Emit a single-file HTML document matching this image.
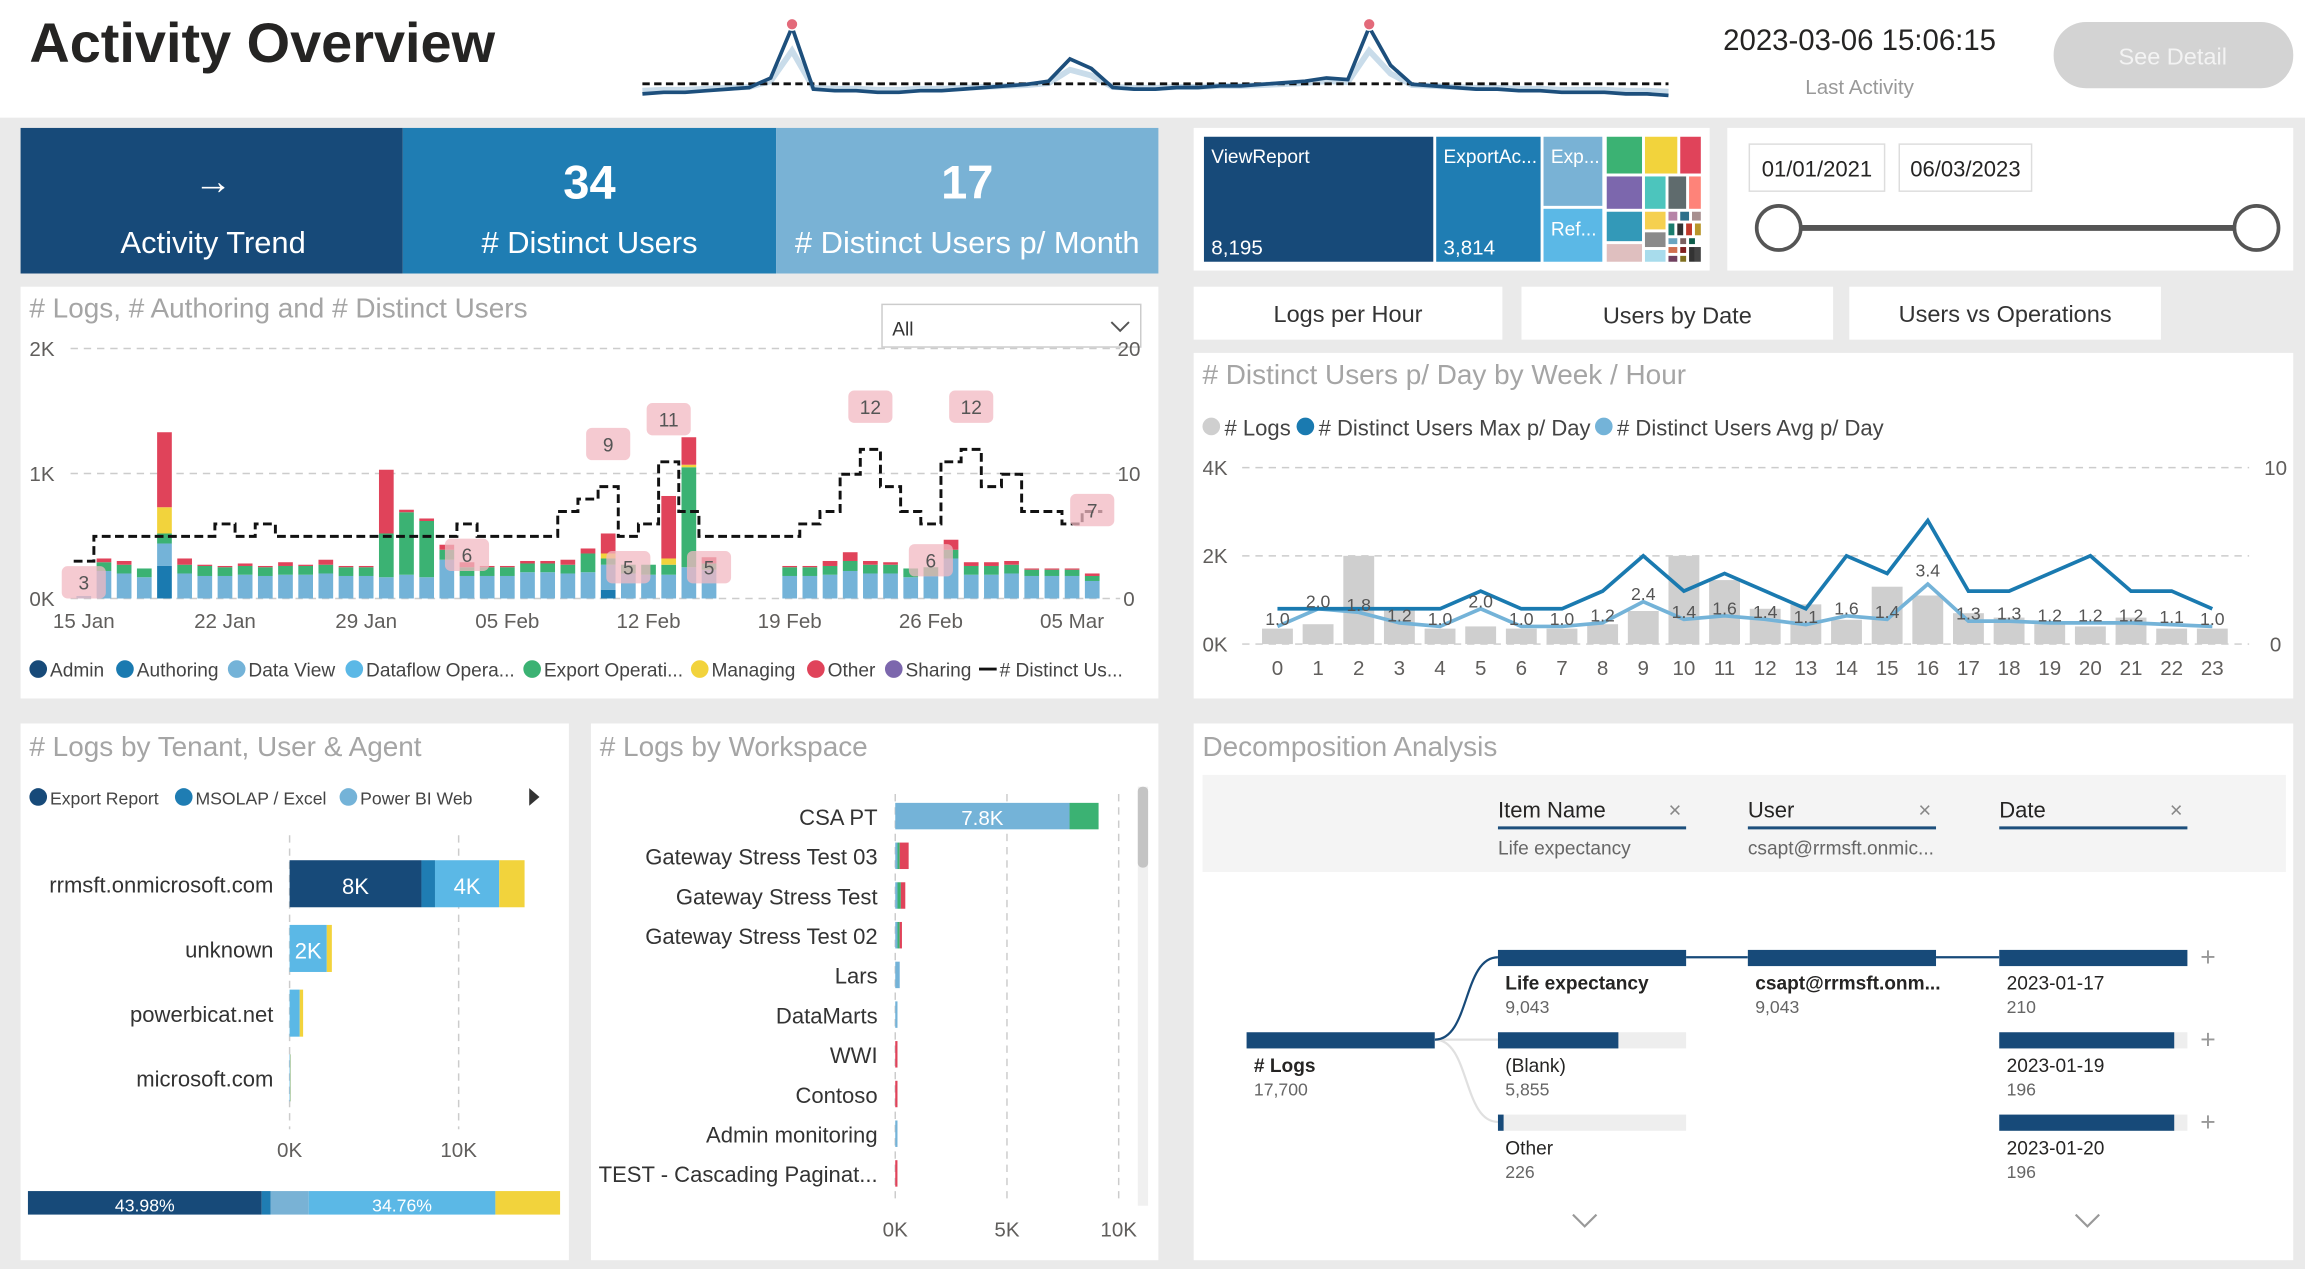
<!DOCTYPE html>
<html><head><meta charset="utf-8"><style>
html,body{margin:0;padding:0;background:#eaeaea;overflow:hidden}
svg{display:block;font-family:"Liberation Sans",sans-serif}
</style></head><body>
<svg id="root" width="2305" height="1269" viewBox="0 0 1568 863" preserveAspectRatio="none" xmlns="http://www.w3.org/2000/svg">
<rect x="0" y="0" width="1568" height="863" fill="#eaeaea"/>
<rect x="0" y="0" width="1568" height="80" fill="#fff"/>
<text x="20" y="42" font-size="38" font-weight="bold" fill="#252423">Activity Overview</text>
<g id="spark"></g>
<text x="1265" y="34" font-size="20" text-anchor="middle" fill="#252423">2023-03-06 15:06:15</text>
<text x="1265" y="64" font-size="14" text-anchor="middle" fill="#999">Last Activity</text>
<g><rect x="1397" y="15" width="163" height="45" rx="22" fill="#d3d3d3"/><text x="1478" y="44" font-size="16" text-anchor="middle" fill="#f3f3f3">See Detail</text></g>

<g><rect x="14" y="87" width="260" height="99" fill="#174a79"/><text x="145" y="132" font-size="26" text-anchor="middle" fill="#fff">→</text><text x="145" y="172" font-size="21" text-anchor="middle" fill="#fff">Activity Trend</text></g>
<g><rect x="274" y="87" width="254" height="99" fill="#1f7db3"/><text x="401" y="135" font-size="32" font-weight="bold" text-anchor="middle" fill="#fff">34</text><text x="401" y="172" font-size="21" text-anchor="middle" fill="#fff"># Distinct Users</text></g>
<g><rect x="528" y="87" width="260" height="99" fill="#79b2d5"/><text x="658" y="135" font-size="32" font-weight="bold" text-anchor="middle" fill="#fff">17</text><text x="658" y="172" font-size="21" text-anchor="middle" fill="#fff"># Distinct Users p/ Month</text></g>

<rect x="14" y="195" width="774" height="280" fill="#fff"/>
<text x="20" y="216" font-size="19" fill="#a5a5a5"># Logs, # Authoring and # Distinct Users</text>
<g><rect x="600" y="207" width="176" height="29" fill="#fff" stroke="#ccc"/><text x="607" y="228" font-size="13" fill="#333">All</text><path d="M756 219 l6 6 l6 -6" fill="none" stroke="#555" stroke-width="1.3"/></g>
<g id="main"></g>

<rect x="812" y="87" width="351" height="97" fill="#fff"/>
<g id="tree"></g>
<rect x="1175" y="87" width="385" height="97" fill="#fff"/>
<g><rect x="1190" y="98" width="92" height="32" fill="#fff" stroke="#ddd"/><text x="1236" y="120" font-size="15" text-anchor="middle" fill="#252423">01/01/2021</text></g>
<g><rect x="1292" y="98" width="90" height="32" fill="#fff" stroke="#ddd"/><text x="1337" y="120" font-size="15" text-anchor="middle" fill="#252423">06/03/2023</text></g>
<line x1="1210" y1="155" x2="1535" y2="155" stroke="#555" stroke-width="4"/>
<circle cx="1210" cy="155" r="15" fill="#fff" stroke="#555" stroke-width="2.5"/>
<circle cx="1535" cy="155" r="15" fill="#fff" stroke="#555" stroke-width="2.5"/>

<g><rect x="812" y="195" width="210" height="36" fill="#fff"/><text x="917" y="219" font-size="16" text-anchor="middle" fill="#333">Logs per Hour</text></g>
<g><rect x="1035" y="195" width="212" height="36" fill="#fff"/><text x="1141" y="220" font-size="16" text-anchor="middle" fill="#333">Users by Date</text></g>
<g><rect x="1258" y="195" width="212" height="36" fill="#fff"/><text x="1364" y="219" font-size="16" text-anchor="middle" fill="#333">Users vs Operations</text></g>

<rect x="812" y="240" width="748" height="235" fill="#fff"/>
<text x="818" y="261" font-size="19" fill="#a5a5a5"># Distinct Users p/ Day by Week / Hour</text>
<g id="hour"></g>

<rect x="14" y="492" width="373" height="365" fill="#fff"/>
<text x="20" y="514" font-size="19" fill="#a5a5a5"># Logs by Tenant, User &amp; Agent</text>
<g id="tenant"></g>
<rect x="402" y="492" width="386" height="365" fill="#fff"/>
<text x="408" y="514" font-size="19" fill="#a5a5a5"># Logs by Workspace</text>
<g id="ws"></g>
<rect x="774" y="535" width="7" height="285" fill="#f0f0f0"/>
<rect x="774" y="535" width="7" height="55" rx="3" fill="#c4c4c4"/>

<rect x="812" y="492" width="748" height="365" fill="#fff"/>
<text x="818" y="514" font-size="19" fill="#a5a5a5">Decomposition Analysis</text>
<rect x="818" y="527" width="737" height="66" fill="#f4f4f4"/>
<g id="decomp"></g>
</svg>
<script>
// ---------- main chart data ----------
const dayLabels=["15 Jan","22 Jan","29 Jan","05 Feb","12 Feb","19 Feb","26 Feb","05 Mar"];
const authoring=[0,0,0,0,.26,0,0,0,0,0,0,0,0,0,0,0,0,0,0,0,0,0,0,0,0,0,.07,0,0,0,0,0,0,0,0,0,0,0,0,0,0,0,0,0,0,0,0,0,0,0,0];
const dataView=[.02,.22,.2,.17,.18,.2,.18,.18,.19,.18,.19,.19,.2,.18,.18,.17,.19,.17,.31,.18,.18,.18,.21,.21,.2,.21,.2,.2,.19,.19,.25,.23,0,0,0,.18,.18,.19,.22,.2,.2,.17,.18,.32,.19,.19,.2,.18,.18,.18,.14];
const exportOps=[0,.07,.07,.07,.08,.07,.08,.07,.07,.07,.07,.07,.07,.07,.07,.35,.5,.45,.08,.07,.07,.07,.07,.07,.07,.15,.05,.07,.08,.08,.8,.05,0,0,0,.07,.07,.07,.08,.07,.07,.07,.07,.07,.07,.07,.07,.05,.05,.05,.04];
const managing=[0,0,0,0,.21,0,0,0,0,0,0,0,0,0,0,0,0,0,0,0,0,0,0,0,0,0,.04,0,0,.05,.02,0,0,0,0,0,0,0,0,0,0,0,0,0,0,0,0,0,0,0,0];
const other=[0,.03,.03,0,.6,.05,.01,.01,.02,.01,.03,.01,.04,.01,.01,.51,.02,.02,.04,.04,.01,.01,.02,.02,.04,.04,.16,0,0,.5,.22,.05,0,0,0,.01,.01,.04,.07,.03,.02,0,0,.08,.03,.03,.03,.01,.01,.01,.02];
const distinctUsers=[3,5,5,5,5,5,5,6,5,6,5,5,5,5,5,5,5,5,5,6,5,5,5,5,7,8,9,5,6,11,7,5,5,5,5,5,6,7,10,12,9,7,6,11,12,9,10,7,7,6,7];
const labelDays=[0,19,26,27,29,31,39,42,44,50];
const NS="http://www.w3.org/2000/svg";
function mk(p,tag,a){const e=document.createElementNS(NS,tag);for(const k in a)e.setAttribute(k,a[k]);p.appendChild(e);return e;}
function tx(p,x,y,s,t,o){const e=mk(p,'text',Object.assign({x:x,y:y,'font-size':s,fill:'#605e5c'},o||{}));e.textContent=t;return e;}
const main=document.getElementById('main');
const mx=i=>57+i*13.72, myL=v=>407-v*85, myR=u=>407-u*8.45;
[[0,'0K','0'],[1,'1K','10'],[2,'2K','20']].forEach(([v,l,r])=>{
 const g=mk(main,'line',{x1:48,x2:762,y1:myL(v),y2:myL(v),stroke:'#ccc','stroke-dasharray':'5 4'});
 
 
 const t=tx(main,20,myL(v)+5,14,l);
 
 const t2=tx(main,768,myL(v)+5,14,r,{'text-anchor':'middle'});
 
});
dayLabels.forEach((l,k)=>{const t=tx(main,mx(k*7),427,14,l,{'text-anchor':'middle'});
 
 });
const series=[[authoring,'#1a7ab0'],[dataView,'#74b3d8'],[exportOps,'#3bb273'],[managing,'#f2d33c'],[other,'#e0435a']];
for(let i=0;i<dataView.length;i++){let base=0;series.forEach(([arr,c])=>{const v=arr[i];if(v>0){const r=mk(main,'rect',{x:mx(i)-5,y:myL(base+v),width:10,height:myL(base)-myL(base+v),fill:c});
 
 base+=v;}});}
let d='';distinctUsers.forEach((u,i)=>{const x0=mx(i)-6.86,x1=mx(i)+6.86;d+=(i?'L':'M')+x0+' '+myR(u)+'L'+x1+' '+myR(u);});
const ln=mk(main,'path',{d:d,fill:'none',stroke:'#111','stroke-width':2,'stroke-dasharray':'6 3'});


labelDays.forEach(i=>{const u=distinctUsers[i];let y=myR(u)-40;if(u<=6&&i>0)y=myR(u)+10;if(i==0)y=385;if(i==42)y=370;if(i==50)y=myR(u)-12;
 const g=mk(main,'g',{});
 
 mk(g,'rect',{x:mx(i)-15,y:y,width:30,height:22,rx:4,fill:'#f2b8c1','fill-opacity':.75});
 tx(g,mx(i),y+16,13,String(u),{'text-anchor':'middle',fill:'#555'});});
const leg=[['Admin','#174a79'],['Authoring','#1a7ab0'],['Data View','#74b3d8'],['Dataflow Opera...','#5bb8e6'],['Export Operati...','#3bb273'],['Managing','#f2d33c'],['Other','#e0435a'],['Sharing','#7c67ad']];
const legx=[20,79,155,235,356,470,549,602];
leg.forEach(([n,c],k)=>{const g=mk(main,'g',{});
 
 mk(g,'circle',{cx:legx[k]+6,cy:455,r:6,fill:c});tx(g,legx[k]+14,460,13,n,{fill:'#444'});});
const lg=mk(main,'g',{});

mk(lg,'line',{x1:666,x2:678,y1:455,y2:455,stroke:'#111','stroke-width':2});tx(lg,680,460,13,'# Distinct Us...',{fill:'#444'});

// ---------- sparkline ----------
const sparkVals=[2,3,3,4,5,6,12,44,5,4,4,3,3,4,4,5,6,7,8,10,24,18,6,5,5,6,6,7,7,8,9,10,12,11,44,20,8,7,6,5,5,4,4,3,3,3,2,2,1];
const sp=document.getElementById('spark');
const sx=i=>437+i*(698/(sparkVals.length-1)), sy=v=>66-v*1.08;
let sd='';sparkVals.forEach((v,i)=>sd+=(i?'L':'M')+sx(i)+' '+sy(v));
let sd2='';sparkVals.forEach((v,i)=>sd2+=(i?'L':'M')+sx(i)+' '+(sy(v*0.6)-3));
const s2=mk(sp,'path',{d:sd2,fill:'none',stroke:'#c9dcea','stroke-width':4});


const s3=mk(sp,'line',{x1:437,x2:1135,y1:57,y2:57,stroke:'#111','stroke-width':2,'stroke-dasharray':'5 3'});


const s1=mk(sp,'path',{d:sd,fill:'none',stroke:'#1d4f7c','stroke-width':2.5});


[7,34].forEach(i=>{const c=mk(sp,'circle',{cx:sx(i),cy:sy(sparkVals[i])-2,r:4,fill:'#e36a7a',stroke:'#fff'});
 
 });

// ---------- treemap ----------
const tr=document.getElementById('tree');
const tiles=[[819,93,156,85,'#174a79','ViewReport','8,195'],[977,93,71,85,'#1f7db3','ExportAc...','3,814'],[1050,93,40,47,'#79b2d5','Exp...',''],[1050,142,40,36,'#5bb8e6','Ref...',''],[1093,93,24,25,'#3bb273'],[1119,93,22,25,'#f2d33c'],[1143,93,14,25,'#e0435a'],[1093,120,24,22,'#7c67ad'],[1119,120,14,22,'#4cc5bd'],[1135,120,12,22,'#5f6b6d'],[1149,120,8,22,'#fe8379'],[1093,144,24,20,'#3399b8'],[1093,166,24,12,'#dfbfbf'],[1119,144,14,12,'#f5d04f'],[1119,158,14,10,'#8a8a8a'],[1119,170,14,8,'#a8dcec'],[1135,144,6,6,'#b784a7'],[1143,144,6,6,'#2d6f8a'],[1151,144,6,6,'#a89090'],[1135,152,4,8,'#1a7d6e'],[1141,152,4,8,'#333'],[1147,152,4,8,'#c0392b'],[1153,152,4,8,'#b8952a'],[1135,162,6,4,'#6aa5c0'],[1143,162,4,4,'#7a6060'],[1149,162,4,4,'#0d5c4a'],[1135,168,6,4,'#d07050'],[1143,168,4,4,'#802020'],[1135,174,6,4,'#704060'],[1143,174,4,4,'#807020'],[1149,168,4,10,'#333'],[1153,168,4,10,'#444']];
tiles.forEach(t=>{const g=mk(tr,'g',{});
 
 mk(g,'rect',{x:t[0],y:t[1],width:t[2],height:t[3],fill:t[4]});
 if(t[5])tx(g,t[0]+5,t[1]+18,13,t[5],{fill:'#fff'});if(t[6])tx(g,t[0]+5,t[1]+80,14,t[6],{fill:'#fff'});});

// ---------- hour chart ----------
const hours=[0,1,2,3,4,5,6,7,8,9,10,11,12,13,14,15,16,17,18,19,20,21,22,23];
const hourLogs=[.35,.45,2.0,.8,.35,.4,.35,.35,.45,.75,2.0,1.45,.8,.9,.55,1.3,1.1,.7,.6,.45,.4,.6,.35,.35];
const hourMax=[2,2,2,2,2,3,2,2,3,5,3,4,3,2,5,4,7,3,3,4,5,3,3,2];
const hourAvg=[1.0,2.0,1.8,1.2,1.0,2.0,1.0,1.0,1.2,2.4,1.4,1.6,1.4,1.1,1.6,1.4,3.4,1.3,1.3,1.2,1.2,1.2,1.1,1.0];
const ho=document.getElementById('hour');
const hx=h=>869+h*27.65, hyL=k=>438-k*30, hyR=u=>438-u*12;
[[0,'0K','0'],[2,'2K',''],[4,'4K','10']].forEach(([v,l,r])=>{
 const g=mk(ho,'line',{x1:845,x2:1530,y1:hyL(v),y2:hyL(v),stroke:'#ccc','stroke-dasharray':'5 4'});
 
 
 const t=tx(ho,818,hyL(v)+5,14,l);
 
 if(r){const t2=tx(ho,1548,hyL(v)+5,14,r,{'text-anchor':'middle'});
 }});
hours.forEach((h,i)=>{const r=mk(ho,'rect',{x:hx(i)-10.5,y:hyL(hourLogs[i]),width:21,height:hyL(0)-hyL(hourLogs[i]),fill:'#cfcfcf'});
 
 
 const t=tx(ho,hx(i),459,14,String(h),{'text-anchor':'middle'});
 });
let hd='',ha='';hours.forEach((h,i)=>{hd+=(i?'L':'M')+hx(i)+' '+hyR(hourMax[i]);ha+=(i?'L':'M')+hx(i)+' '+hyR(hourAvg[i]);});
const l2=mk(ho,'path',{d:ha,fill:'none',stroke:'#74b3d8','stroke-width':2.5});


const l1=mk(ho,'path',{d:hd,fill:'none',stroke:'#1a7ab0','stroke-width':2.5});


hourAvg.forEach((v,i)=>{const t=tx(ho,hx(i),hyR(v)+(i==16?-5:-1),12,v.toFixed(1),{'text-anchor':'middle',fill:'#555'});
 
 });
[['# Logs','#cfcfcf',818],['# Distinct Users Max p/ Day','#1a7ab0',882],['# Distinct Users Avg p/ Day','#74b3d8',1085]].forEach(([n,c,x])=>{
 const g=mk(ho,'g',{});
 
 mk(g,'circle',{cx:x+6,cy:290,r:6,fill:c});tx(g,x+15,296,15,n,{fill:'#444'});});

// ---------- tenant chart ----------
const tenants=["rrmsft.onmicrosoft.com","unknown","powerbicat.net","microsoft.com"];
const tExport=[7.8,0,0,0];
const tMsolap=[0.8,0,0,0];
const tWeb=[3.8,2.2,0.6,0.05];
const tOther=[1.5,0.3,0.2,0.02];
const te=document.getElementById('tenant');
const tX=k=>197+k*11.5;
[0,10].forEach(k=>{const l=mk(te,'line',{x1:tX(k),x2:tX(k),y1:568,y2:768,stroke:'#ccc','stroke-dasharray':'5 4'});
 
 
 const t=tx(te,tX(k),787,14,k+'K',{'text-anchor':'middle'});
 });
tenants.forEach((n,i)=>{const yc=601+i*44;const t=tx(te,186,yc+6,15,n,{'text-anchor':'end',fill:'#333'});
 
 
 let b=0;[[tExport,'#174a79'],[tMsolap,'#1f7db3'],[tWeb,'#5bb8e6'],[tOther,'#f2d33c']].forEach(([a,c])=>{const v=a[i];if(v>0){
 const r=mk(te,'rect',{x:tX(b),y:yc-16,width:tX(b+v)-tX(b),height:32,fill:c});
 
 
 if(v>=1.5&&c!='#f2d33c')tx(te,(tX(b)+tX(b+v))/2,yc+7,15,Math.round(v)+'K',{'text-anchor':'middle',fill:'#fff'});b+=v;}});});
[['Export Report','#174a79',20],['MSOLAP / Excel','#1f7db3',119],['Power BI Web','#74b3d8',231]].forEach(([n,c,x])=>{
 const g=mk(te,'g',{});
 
 mk(g,'circle',{cx:x+6,cy:542,r:6,fill:c});tx(g,x+14,547,12,n,{fill:'#444'});});
const arr=mk(te,'path',{d:'M360 536 l7 6 l-7 6z',fill:'#333'});

[[19,159,'#174a79','43.98%'],[178,6,'#1f7db3',''],[184,26,'#79b2d5',''],[210,127,'#5bb8e6','34.76%'],[337,44,'#f2d33c','']].forEach(([x,w,c,l])=>{
 const r=mk(te,'rect',{x:x,y:810,width:w,height:16,fill:c});
 
 if(l)tx(te,x+w/2,824,12,l,{'text-anchor':'middle',fill:'#fff'});});

// ---------- workspace chart ----------
const workspaces=["CSA PT","Gateway Stress Test 03","Gateway Stress Test","Gateway Stress Test 02","Lars","DataMarts","WWI","Contoso","Admin monitoring","TEST - Cascading Paginat..."];
const wsView=[7.8,0.1,0.1,0.1,0.2,0.1,0,0,0.1,0];
const wsExport=[1.3,0.1,0.15,0.1,0,0,0,0,0,0];
const wsOther=[0,0.4,0.2,0.1,0,0,0.1,0.1,0,0.05];
const ws=document.getElementById('ws');
const wX=k=>609+k*15.2;
[0,5,10].forEach(k=>{const l=mk(ws,'line',{x1:wX(k),x2:wX(k),y1:540,y2:815,stroke:'#ccc','stroke-dasharray':'5 4'});
 
 
 const t=tx(ws,wX(k),841,14,k+'K',{'text-anchor':'middle'});
 });
workspaces.forEach((n,i)=>{const yc=555+i*27;const t=tx(ws,597,yc+6,15,n,{'text-anchor':'end',fill:'#333'});
 
 
 let b=0;[[wsView,'#74b3d8'],[wsExport,'#3bb273'],[wsOther,'#e0435a']].forEach(([a,c])=>{const v=a[i];if(v>0){
 const r=mk(ws,'rect',{x:wX(b),y:yc-9,width:Math.max(wX(b+v)-wX(b),1.5),height:18,fill:c});
 
 b+=v;}});
 if(i==0)tx(ws,wX(wsView[0]/2),yc+6,14,'7.8K',{'text-anchor':'middle',fill:'#fff'});});

// ---------- decomposition ----------
const dc=document.getElementById('decomp');
[['Item Name',1019,'Life expectancy'],['User',1189,'csapt@rrmsft.onmic...'],['Date',1360,'']].forEach(([h,x,s])=>{
 const g=mk(dc,'g',{});
 
 tx(g,x,556,15,h,{fill:'#252423'});mk(g,'line',{x1:x,x2:x+128,y1:563,y2:563,stroke:'#1d4f7c','stroke-width':2});
 tx(g,x+116,556,15,'×',{fill:'#888'});if(s)tx(g,x,581,13,s,{fill:'#666'});});
function node(x,y,frac,l1,l2,bold){const g=mk(dc,'g',{});
 
 mk(g,'rect',{x:x,y:y,width:128,height:11,fill:'#eee'});mk(g,'rect',{x:x,y:y,width:128*frac,height:11,fill:'#174a79'});
 tx(g,x+5,y+27,13,l1,{fill:'#252423','font-weight':bold?'bold':'normal'});tx(g,x+5,y+43,12,l2,{fill:'#666'});}
const lk2=mk(dc,'path',{d:'M976 707 C1000 707 995 763 1019 763 M976 707 L1019 707',fill:'none',stroke:'#e0e0e0','stroke-width':1.5});


const lk=mk(dc,'path',{d:'M976 707 C1000 707 995 651 1019 651 M1146 651 L1189 651 M1316 651 L1360 651',fill:'none',stroke:'#174a79','stroke-width':1.5});


node(848,702,1,'# Logs','17,700',true);
node(1019,646,1,'Life expectancy','9,043',true);
node(1019,702,0.64,'(Blank)','5,855');
node(1019,758,0.03,'Other','226');
node(1189,646,1,'csapt@rrmsft.onm...','9,043',true);
node(1360,646,1,'2023-01-17','210');
node(1360,702,0.93,'2023-01-19','196');
node(1360,758,0.93,'2023-01-20','196');
[651,707,763].forEach(y=>{const t=tx(dc,1502,y+6,18,'+',{'text-anchor':'middle',fill:'#999'});
 });
[1078,1420].forEach(x=>{const c=mk(dc,'path',{d:`M${x-8} 826 l8 8 l8 -8`,fill:'none',stroke:'#999','stroke-width':1.5});
 
 });
</script>
</body></html>
